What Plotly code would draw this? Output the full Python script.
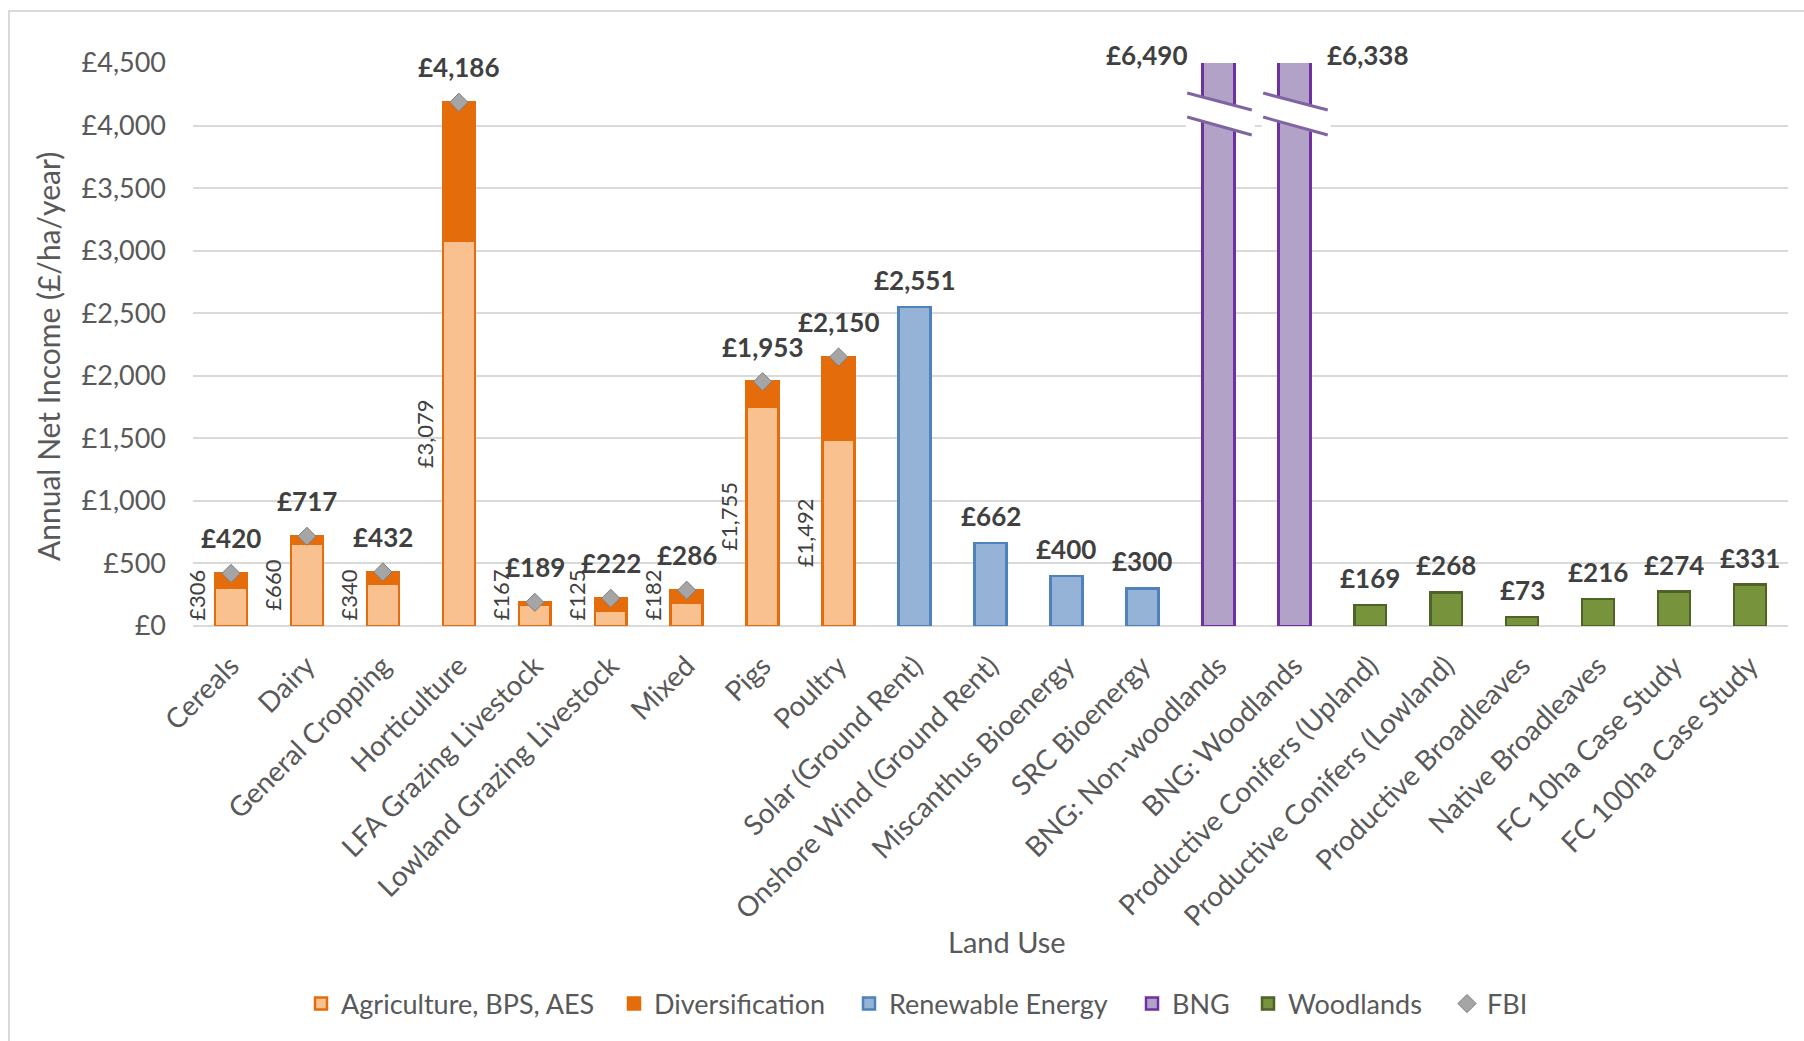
import plotly.graph_objects as go

# ---- data -------------------------------------------------------------
categories = [
    "Cereals", "Dairy", "General Cropping", "Horticulture", "LFA Grazing Livestock",
    "Lowland Grazing Livestock", "Mixed", "Pigs", "Poultry",
    "Solar (Ground Rent)", "Onshore Wind (Ground Rent)", "Miscanthus Bioenergy",
    "SRC Bioenergy", "BNG: Non-woodlands", "BNG: Woodlands",
    "Productive Conifers (Upland)", "Productive Conifers (Lowland)",
    "Productive Broadleaves", "Native Broadleaves", "FC 10ha Case Study",
    "FC 100ha Case Study",
]

farm_types = categories[0:9]
agriculture = [306, 660, 340, 3079, 167, 125, 182, 1755, 1492]
diversification = [114, 57, 92, 1107, 22, 97, 104, 198, 658]
fbi = [420, 717, 432, 4186, 189, 222, 286, 1953, 2150]

renewable_types = categories[9:13]
renewable = [2551, 662, 400, 300]

bng_types = categories[13:15]
bng = [6490, 6338]

woodland_types = categories[15:21]
woodlands = [169, 268, 73, 216, 274, 331]

y_max = 4500
y_step = 500

# ---- layout geometry (pixels) -------------------------------------------
W, H = 1804, 1041
L, R, T, B = 193, 16, 63, 415
PW, PH = W - L - R, H - T - B


def px(xp):
    return (xp - L) / PW


def py(yp):
    return (H - B - yp) / PH


FONT = "Lato, 'Open Sans', sans-serif"
GREY = "#595959"
DARK = "#404040"


def money(v):
    return "£{:,}".format(v)


# each legend entry gets its own legend box so the spacing can be set freely
legend_x = [301, 614, 849, 1132, 1248, 1447]
legend_ids = ["legend", "legend2", "legend3", "legend4", "legend5", "legend6"]

fig = go.Figure()

fig.add_trace(go.Bar(
    name="Agriculture, BPS, AES", x=farm_types, y=agriculture, legend=legend_ids[0],
    marker=dict(color="#F9C090", line=dict(color="#E46C0A", width=2.5)),
))
fig.add_trace(go.Bar(
    name="Diversification", x=farm_types, y=diversification, legend=legend_ids[1],
    marker=dict(color="#E46C0A", line=dict(color="#E46C0A", width=2.5)),
))
fig.add_trace(go.Bar(
    name="Renewable Energy", x=renewable_types, y=renewable, legend=legend_ids[2],
    marker=dict(color="#95B3D7", line=dict(color="#4F81BD", width=2.5)),
))
fig.add_trace(go.Bar(
    name="BNG", x=bng_types, y=bng, legend=legend_ids[3],
    marker=dict(color="#B3A2C7", line=dict(color="#7030A0", width=2.5)),
))
fig.add_trace(go.Bar(
    name="Woodlands", x=woodland_types, y=woodlands, legend=legend_ids[4],
    marker=dict(color="#77933C", line=dict(color="#4F6228", width=2.5)),
))
fig.add_trace(go.Scatter(
    name="FBI", x=farm_types, y=fbi, mode="markers", cliponaxis=False,
    legend=legend_ids[5],
    marker=dict(symbol="diamond", size=14, color="#A5A5A5",
                line=dict(color="#7F7F7F", width=1)),
))

annotations = []

# totals above the farm-type bars
for cat, v in zip(farm_types, fbi):
    annotations.append(dict(
        x=cat, y=v, yshift=35, text="<b>%s</b>" % money(v), showarrow=False,
        font=dict(family=FONT, size=26, color=DARK),
    ))

# agriculture component, written vertically beside each bar
for cat, v in zip(farm_types, agriculture):
    annotations.append(dict(
        x=cat, y=max(v / 2, 250), xshift=-34, text=money(v), textangle=-90,
        showarrow=False, font=dict(family=FONT, size=22, color=DARK),
    ))

for cats, vals in ((renewable_types, renewable), (woodland_types, woodlands)):
    for cat, v in zip(cats, vals):
        annotations.append(dict(
            x=cat, y=v, yshift=27, text="<b>%s</b>" % money(v), showarrow=False,
            font=dict(family=FONT, size=26, color=DARK),
        ))

# BNG bars run off the top of the axis; their values sit beside the break
for cat, v, shift in zip(bng_types, bng, (-72, 73)):
    annotations.append(dict(
        x=cat, y=y_max, xshift=shift, yshift=8, text="<b>%s</b>" % money(v),
        showarrow=False, font=dict(family=FONT, size=26, color=DARK),
    ))

# axis titles
annotations.append(dict(
    xref="paper", yref="paper", x=px(1007), y=py(942), xanchor="center",
    yanchor="middle", text="Land Use", showarrow=False,
    font=dict(family=FONT, size=29, color=GREY),
))
annotations.append(dict(
    xref="paper", yref="paper", x=px(48), y=py(357), xanchor="center",
    yanchor="middle", text="Annual Net Income (£/ha/year)", textangle=-90,
    showarrow=False, font=dict(family=FONT, size=30, color=GREY),
))

shapes = []

# outer chart border
shapes.append(dict(
    type="rect", xref="paper", yref="paper", layer="below",
    x0=px(9), x1=px(1815), y0=py(1050), y1=py(11),
    line=dict(color="#D9D9D9", width=2), fillcolor="rgba(0,0,0,0)",
))

# axis-break marks on the BNG bars
unit = y_max / PH  # data units per pixel
for cat in bng_types:
    i = categories.index(cat)
    xl, xr = i - 0.41, i + 0.44
    top_l, top_r = 4260, 4260 - 17 * unit
    bot_l, bot_r = 4260 - 24 * unit, 4260 - 42 * unit
    # gap in the gridline behind the bar
    shapes.append(dict(
        type="rect", xref="x", yref="y", layer="between",
        x0=xl - 0.02, x1=xr + 0.04, y0=bot_r - 10 * unit, y1=top_l,
        line=dict(width=0), fillcolor="white",
    ))
    # white band across the bar
    shapes.append(dict(
        type="path", xref="x", yref="y", layer="above",
        path="M %f,%f L %f,%f L %f,%f L %f,%f Z" % (xl, top_l, xr, top_r, xr, bot_r, xl, bot_l),
        line=dict(width=0), fillcolor="white",
    ))
    for y0, y1 in ((top_l, top_r), (bot_l, bot_r)):
        shapes.append(dict(
            type="line", xref="x", yref="y", layer="above",
            x0=xl, x1=xr, y0=y0, y1=y1,
            line=dict(color="#8064A2", width=3),
        ))

layout_legends = {}
for lid, lx in zip(legend_ids, legend_x):
    layout_legends[lid] = dict(
        orientation="h", x=px(lx), xanchor="left", y=py(1004), yanchor="middle",
        font=dict(family=FONT, size=27, color=GREY), bgcolor="rgba(0,0,0,0)",
    )

fig.update_layout(
    width=W, height=H,
    margin=dict(l=L, r=R, t=T, b=B, autoexpand=False),
    paper_bgcolor="white", plot_bgcolor="white",
    barmode="stack", bargap=0.58,
    font=dict(family=FONT, size=26, color=GREY),
    showlegend=True,
    xaxis=dict(
        categoryorder="array", categoryarray=categories, tickangle=-45,
        range=[-0.5, len(categories) - 0.5], autorange=False,
        tickfont=dict(family=FONT, size=28, color=GREY), showgrid=False,
        showline=False, ticks="", ticklabelstandoff=17,
    ),
    yaxis=dict(
        range=[0, y_max], dtick=y_step, tickprefix="£", tickformat=",d",
        tickfont=dict(family=FONT, size=27, color=GREY),
        gridcolor="#D9D9D9", gridwidth=2, zeroline=True, zerolinecolor="#D9D9D9",
        zerolinewidth=2, showline=False, ticks="", ticklabelstandoff=26,
    ),
    annotations=annotations,
    shapes=shapes,
    **layout_legends,
)

fig.write_html("out.html")
